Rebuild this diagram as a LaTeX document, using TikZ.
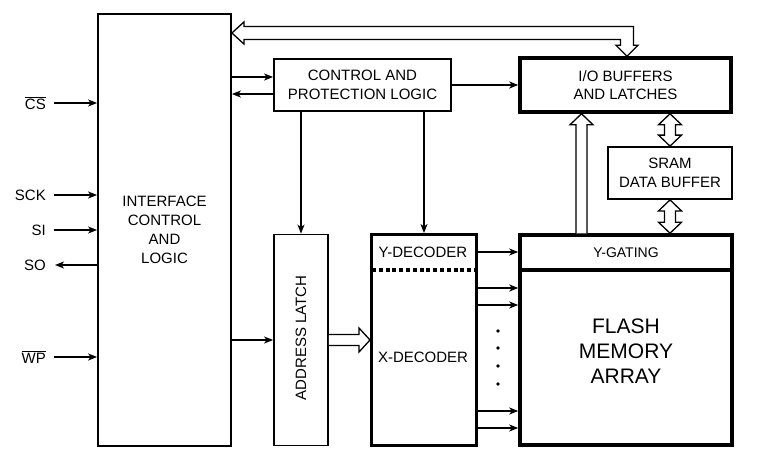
\documentclass[tikz,border=0pt]{standalone}
\usepackage{fontspec}
\setmainfont{Liberation Sans}
\usetikzlibrary{arrows.meta,calc}
\begin{document}
\begin{tikzpicture}[x=1pt,y=-1pt, font=\fontsize{15}{18.5}\selectfont,
  box/.style={draw, line width=1.8pt, inner sep=0pt, align=center},
  tbox/.style={draw, line width=3.5pt, inner sep=0pt, align=center},
  sig/.style={line width=1.5pt, -{Stealth[length=9pt,width=7pt,inset=2.5pt]}},
  bus/.style={line width=1.3pt, draw, fill=white, line join=miter},
  lbl/.style={inner sep=0pt}]
\useasboundingbox (0,0) rectangle (759,463);

% blocks
\node[box, minimum width=133pt, minimum height=432pt, font=\fontsize{15}{19}\selectfont] (iface) at (164.5,230) {INTERFACE\\CONTROL\\AND\\LOGIC};
\node[box, minimum width=177pt, minimum height=52pt] (ctrl) at (362.5,85) {CONTROL AND\\PROTECTION LOGIC};
\node[tbox, minimum width=211pt, minimum height=54pt] (io) at (625.5,85) {I/O BUFFERS\\AND LATCHES};
\node[box, minimum width=124pt, minimum height=52pt] (sram) at (670,173) {SRAM\\DATA BUFFER};
\node[tbox, minimum width=212pt, minimum height=35pt, font=\fontsize{14}{17}\selectfont] (ygate) at (626,252.5) {Y-GATING};
\node[tbox, minimum width=212pt, minimum height=175pt] (flash) at (626,357.5) {};
\node[lbl, align=center, font=\fontsize{21}{25}\selectfont] (flashtxt) at (626,351) {FLASH\\MEMORY\\ARRAY};
\node[box, minimum width=54pt, minimum height=211pt] (latch) at (301,340) {};
\node[lbl, rotate=90] (latchtxt) at (301,338) {ADDRESS LATCH};
\node[draw, line width=3pt, minimum width=105pt, minimum height=211pt, inner sep=0pt] (dec) at (424,340) {};
\node[lbl] (ydec) at (423,252) {Y-DECODER};
\node[lbl] (xdec) at (423,357) {X-DECODER};

% dotted divider
\coordinate (dl) at (372,270);
\draw[line width=3.2pt, dash pattern=on 4pt off 2.8pt] (dl) -- (dl -| dec.east);

% left signals
\node[lbl, anchor=east] (cs) at (46,103) {$\overline{\mbox{CS}}$};
\node[lbl, anchor=east] (sck) at (46,195) {SCK};
\node[lbl, anchor=east] (si) at (46,230) {SI};
\node[lbl, anchor=east] (so) at (46,265) {SO};
\node[lbl, anchor=east] (wp) at (46,357) {$\overline{\mbox{WP}}$};
\coordinate (csA) at (54,103);
\coordinate (sckA) at (54,195);
\coordinate (siA) at (54,230);
\coordinate (soA) at (55,265);
\coordinate (wpA) at (54,357);
\draw[sig] (csA) -- (csA -| iface.west);
\draw[sig] (sckA) -- (sckA -| iface.west);
\draw[sig] (siA) -- (siA -| iface.west);
\draw[sig] (soA -| iface.west) -- (soA);
\draw[sig] (wpA) -- (wpA -| iface.west);

% interface <-> control
\coordinate (y77) at (0,77);
\coordinate (y94) at (0,94);
\draw[sig] (iface.east |- y77) -- (ctrl.west |- y77);
\draw[sig] (ctrl.west |- y94) -- (iface.east |- y94);
\draw[sig] (ctrl.east) -- (io.west);
\draw[sig] (latch.north |- ctrl.south) -- (latch.north);
\draw[sig] (dec.north |- ctrl.south) -- (dec.north);
\draw[sig] (iface.east |- latch.west) -- (latch.west);

% decoder -> array
\draw[sig] (ydec -| dec.east) -- (ydec -| ygate.west);
\coordinate (r1) at (476,288);
\coordinate (r2) at (476,305);
\coordinate (r3) at (476,411);
\coordinate (r4) at (476,428);
\draw[sig] (r1 -| dec.east) -- (r1 -| flash.west);
\draw[sig] (r2 -| dec.east) -- (r2 -| flash.west);
\draw[sig] (r3 -| dec.east) -- (r3 -| flash.west);
\draw[sig] (r4 -| dec.east) -- (r4 -| flash.west);
\foreach \yy in {331,348,366,384} \fill (498,\yy) circle (1.8);

% top bus
\coordinate (y33) at (0,33);
\coordinate (L) at (iface.east |- y33);
\coordinate (T) at ($(io.north)+(1.5,0)$);
\coordinate (C) at (T |- L);
\draw[bus] (L) -- ($(L)+(12,-11)$) -- ($(L)+(12,-6.5)$) -- ($(C)+(6.5,-6.5)$)
  -- ($(T)+(6.5,-11)$) -- ($(T)+(11,-11)$) -- (T) -- ($(T)+(-11,-11)$)
  -- ($(T)+(-6.5,-11)$) -- ($(C)+(-6.5,6.5)$) -- ($(L)+(12,6.5)$)
  -- ($(L)+(12,11)$) -- cycle;

% address bus
\coordinate (A) at (latch.east);
\coordinate (B) at (dec.west);
\draw[bus] ($(A)+(0,-5.5)$) -- ($(B)+(-11,-5.5)$) -- ($(B)+(-11,-12)$) -- (B)
  -- ($(B)+(-11,12)$) -- ($(B)+(-11,5.5)$) -- ($(A)+(0,5.5)$);

% up arrow y-gating -> io
\coordinate (ux) at (581.5,0);
\coordinate (upB) at (ygate.north -| ux);
\coordinate (upT) at (io.south -| ux);
\draw[bus] ($(upB)+(-5.5,0)$) -- ($(upT)+(-5.5,11)$) -- ($(upT)+(-11.5,11)$) -- (upT)
  -- ($(upT)+(11.5,11)$) -- ($(upT)+(5.5,11)$) -- ($(upB)+(5.5,0)$);

% double arrows io <-> sram <-> ygate
\coordinate (a1) at (io.south -| sram.north);
\coordinate (b1) at (sram.north);
\draw[bus] (a1) -- ($(a1)+(11.5,11)$) -- ($(a1)+(5.5,11)$) -- ($(b1)+(5.5,-11)$)
  -- ($(b1)+(11.5,-11)$) -- (b1) -- ($(b1)+(-11.5,-11)$) -- ($(b1)+(-5.5,-11)$)
  -- ($(a1)+(-5.5,11)$) -- ($(a1)+(-11.5,11)$) -- cycle;
\coordinate (a2) at (sram.south);
\coordinate (b2) at (ygate.north -| sram.south);
\draw[bus] (a2) -- ($(a2)+(11.5,11)$) -- ($(a2)+(5.5,11)$) -- ($(b2)+(5.5,-11)$)
  -- ($(b2)+(11.5,-11)$) -- (b2) -- ($(b2)+(-11.5,-11)$) -- ($(b2)+(-5.5,-11)$)
  -- ($(a2)+(-5.5,11)$) -- ($(a2)+(-11.5,11)$) -- cycle;
\end{tikzpicture}
\end{document}
